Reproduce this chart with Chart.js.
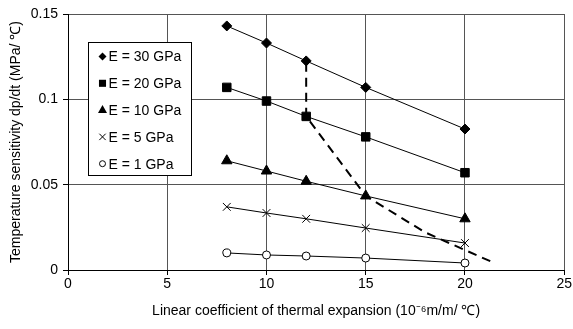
<!DOCTYPE html>
<html>
<head>
<meta charset="utf-8">
<script src="https://cdn.jsdelivr.net/npm/chart.js"></script>
<style>
  body { margin: 0; background: #fff; }
</style>
</head>
<body>
<canvas id="myChart" width="573" height="329"></canvas>
<script>
// thermal expansion coefficient (x) and sensitivity per modulus (y)
const expansion = [8, 10, 12, 15, 20];
const e30 = [0.143, 0.133, 0.1225, 0.107, 0.0826];
const e20 = [0.107, 0.099, 0.090, 0.078, 0.057];
const e10 = [0.064, 0.058, 0.052, 0.0434, 0.030];
const e5 = [0.037, 0.0334, 0.030, 0.0246, 0.0158];
const e1 = [0.010, 0.0088, 0.0082, 0.007, 0.0041];

const seriesLabels = ['E = 30 GPa', 'E = 20 GPa', 'E = 10 GPa', 'E = 5 GPa', 'E = 1 GPa'];
const seriesValues = [e30, e20, e10, e5, e1];
const markerStyles = ['rectRot', 'rect', 'triangle', 'crossRot', 'circle'];
const markerSizes = [5, 6, 6, 5.5, 4];

// dashed guide line
const guideX = [12, 12, 15, 18, 20, 21.5];
const guideY = [0.1215, 0.09, 0.0434, 0.022, 0.0117, 0.004];

const xTitle = 'Linear coefficient of thermal expansion (10\u207B\u2076m/m/ \u2103)';
const yTitle = 'Temperature sensitivity dp/dt (MPa/ \u2103)';

const fontFamily = '"Liberation Sans", Arial, sans-serif';
const fontSize = 14;
const gridColor = '#555';

function toPoints(xs, ys) {
    return xs.map((x, i) => ({ x: x, y: ys[i] }));
}

const datasets = seriesValues.map((vals, i) => ({
    label: seriesLabels[i],
    data: toPoints(expansion, vals),
    showLine: true,
    borderColor: '#000',
    borderWidth: 1,
    pointStyle: markerStyles[i],
    pointRadius: markerSizes[i],
    pointBorderColor: '#000',
    pointBackgroundColor: markerStyles[i] === 'circle' ? '#fff' : '#000',
    pointBorderWidth: 1,
}));

datasets.push({
    label: 'guide',
    data: toPoints(guideX, guideY),
    showLine: true,
    borderColor: '#000',
    borderWidth: 2,
    borderDash: [9, 6],
    pointRadius: 0,
});

function drawMarker(ctx, style, x, y, r) {
    ctx.beginPath();
    if (style === 'rect') {
        const s = r * Math.SQRT1_2;
        ctx.rect(x - s, y - s, 2 * s, 2 * s);
        ctx.fill();
    } else if (style === 'rectRot') {
        ctx.moveTo(x, y - r);
        ctx.lineTo(x + r, y);
        ctx.lineTo(x, y + r);
        ctx.lineTo(x - r, y);
        ctx.closePath();
        ctx.fill();
    } else if (style === 'triangle') {
        ctx.moveTo(x, y - r);
        ctx.lineTo(x + r * 0.9, y + r * 0.6);
        ctx.lineTo(x - r * 0.9, y + r * 0.6);
        ctx.closePath();
        ctx.fill();
    } else if (style === 'crossRot') {
        const s = r * Math.SQRT1_2;
        ctx.moveTo(x - s, y - s);
        ctx.lineTo(x + s, y + s);
        ctx.moveTo(x - s, y + s);
        ctx.lineTo(x + s, y - s);
        ctx.stroke();
    } else {
        ctx.arc(x, y, r, 0, Math.PI * 2);
        ctx.fillStyle = '#fff';
        ctx.fill();
        ctx.stroke();
    }
}

// boxed legend inside the plot, like the original
const boxLegend = {
    id: 'boxLegend',
    afterDraw(chart) {
        const ctx = chart.ctx;
        const area = chart.chartArea;
        const left = area.left + 20.5;
        const top = area.top + 28.5;
        const w = 103;
        const h = 133;
        ctx.save();
        ctx.fillStyle = '#fff';
        ctx.strokeStyle = '#000';
        ctx.lineWidth = 1;
        ctx.fillRect(left, top, w, h);
        ctx.strokeRect(left, top, w, h);
        ctx.font = fontSize + 'px ' + fontFamily;
        ctx.textBaseline = 'middle';
        seriesLabels.forEach((label, i) => {
            const y = top + 14 + i * 26.8;
            ctx.fillStyle = '#000';
            ctx.strokeStyle = '#000';
            drawMarker(ctx, markerStyles[i], left + 14, y, markerSizes[i] - 1);
            ctx.fillStyle = '#000';
            ctx.fillText(label, left + 20, y + 1);
        });
        ctx.restore();
    }
};

const config = {
    type: 'scatter',
    data: { datasets: datasets },
    options: {
        responsive: false,
        animation: false,
        layout: { padding: { left: 0, right: 7, top: 14, bottom: 0 } },
        plugins: {
            legend: { display: false },
            tooltip: { enabled: false },
        },
        scales: {
            x: {
                type: 'linear',
                min: 0,
                max: 25,
                ticks: { stepSize: 5, color: '#000', padding: 1, font: { family: fontFamily, size: fontSize } },
                grid: { color: gridColor, tickColor: '#000', tickLength: 5, lineWidth: 1 },
                border: { color: '#000', width: 1 },
                title: {
                    display: true,
                    text: xTitle,
                    color: '#000',
                    font: { family: fontFamily, size: fontSize },
                    padding: { top: 0, bottom: 9 },
                },
                afterFit(scale) { scale.height = 59; },
            },
            y: {
                min: 0,
                max: 0.15,
                ticks: {
                    stepSize: 0.05,
                    color: '#000',
                    padding: 5,
                    font: { family: fontFamily, size: fontSize },
                    callback: (v) => String(Math.round(v * 100) / 100),
                },
                grid: { color: gridColor, tickColor: '#000', tickLength: 5, lineWidth: 1 },
                border: { color: '#000', width: 1 },
                title: {
                    display: true,
                    text: yTitle,
                    color: '#000',
                    font: { family: fontFamily, size: fontSize },
                    padding: { top: 8, bottom: 0 },
                },
                afterFit(scale) { scale.width = 68; },
            },
        },
    },
    plugins: [boxLegend],
};

const myChart = new Chart(document.getElementById('myChart'), config);
</script>
</body>
</html>
